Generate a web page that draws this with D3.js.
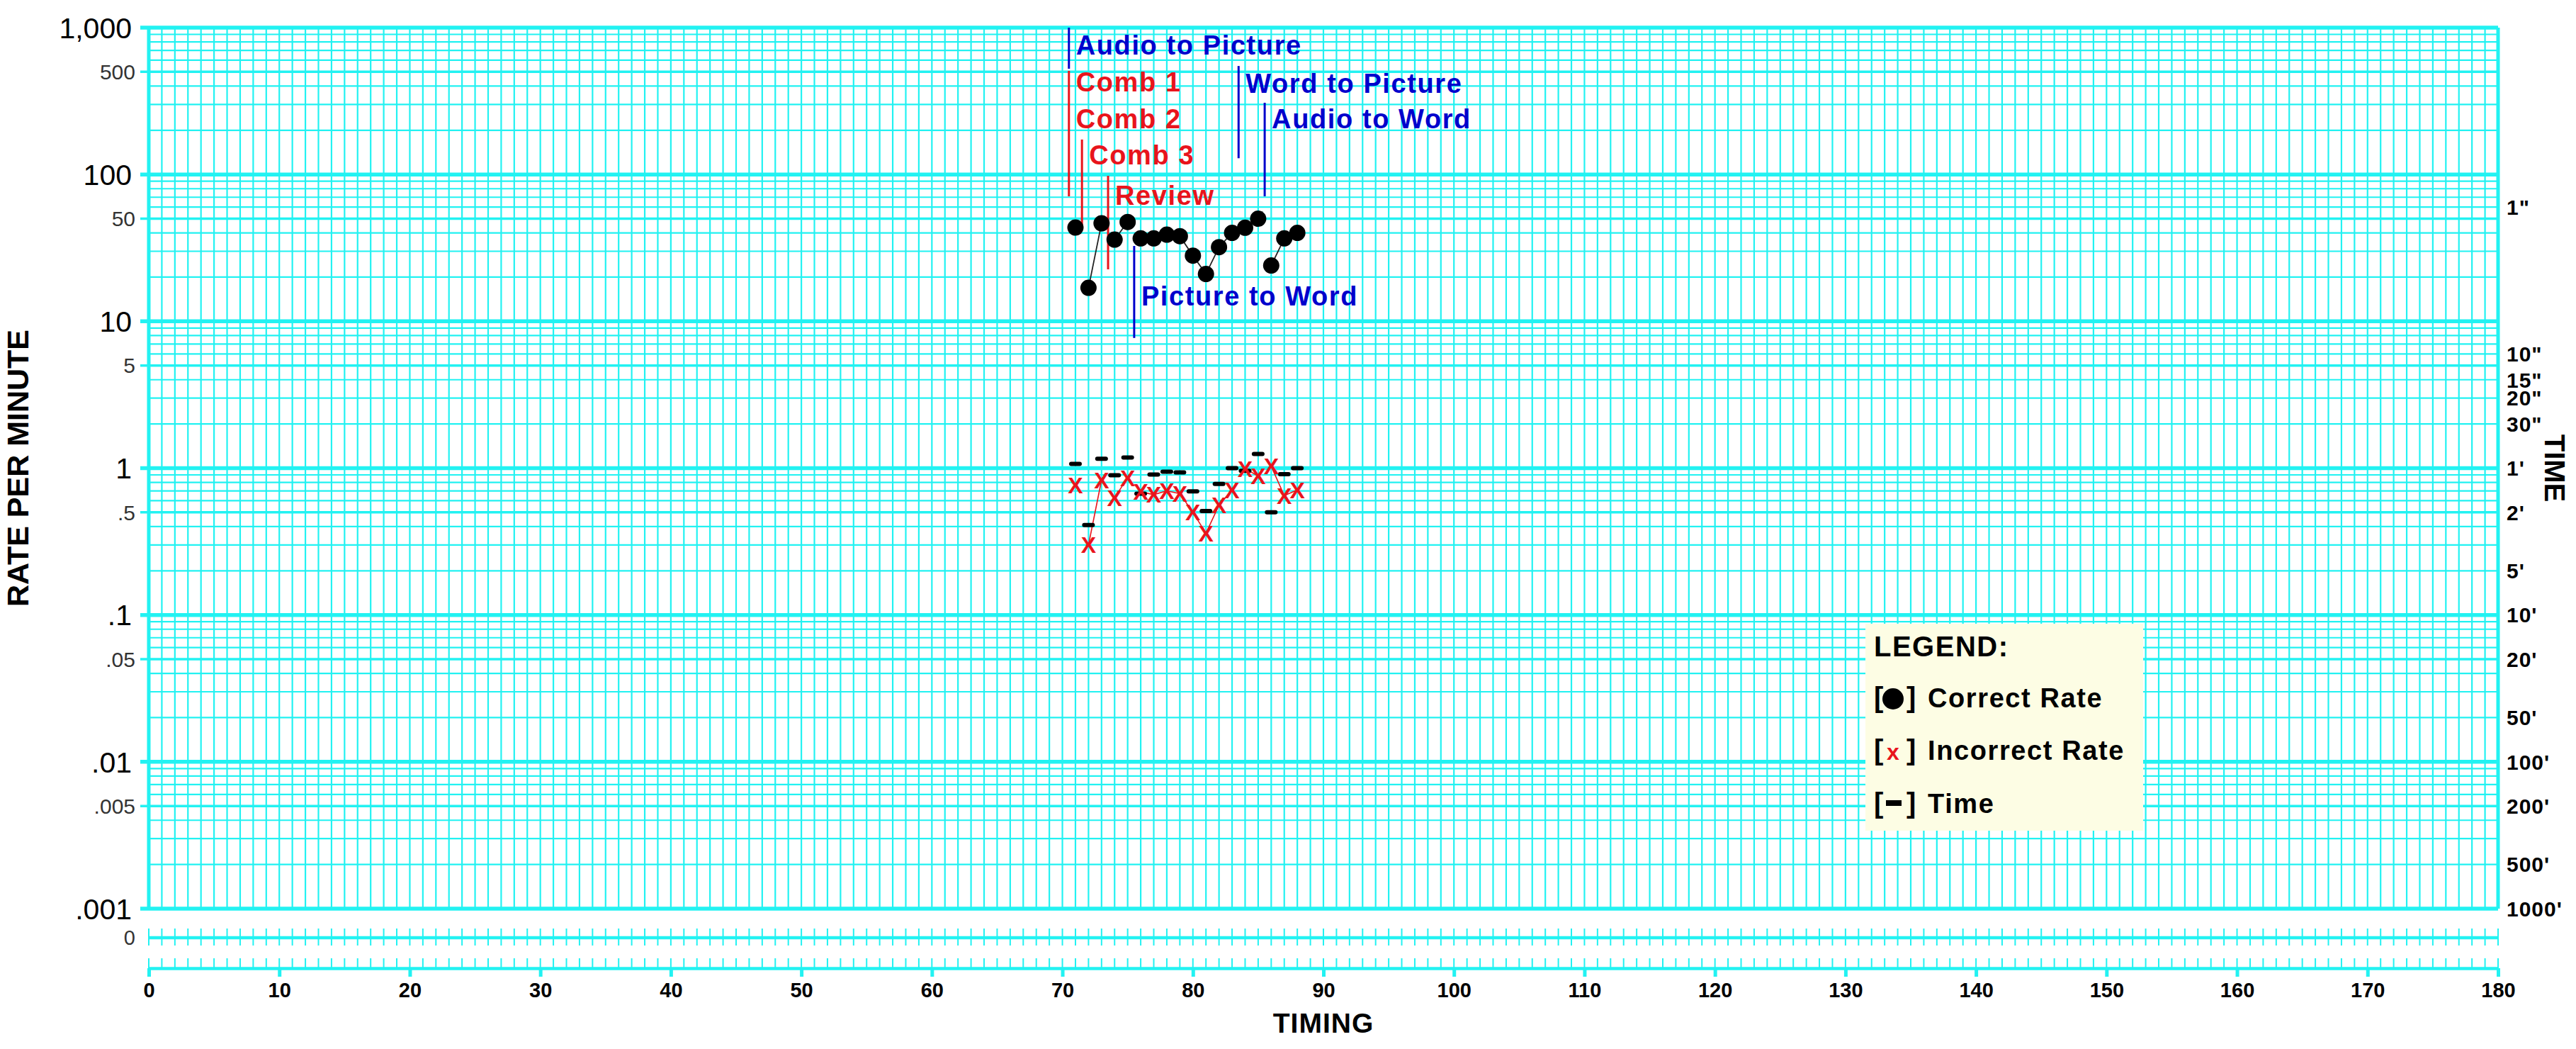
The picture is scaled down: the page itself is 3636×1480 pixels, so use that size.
<!DOCTYPE html>
<html>
<head>
<meta charset="utf-8">
<script src="https://cdn.jsdelivr.net/npm/d3@7"></script>
<style>
  html, body { margin: 0; padding: 0; background: #fff; }
  svg text { font-family: "Liberation Sans", Arial, sans-serif; }
</style>
</head>
<body>
<div id="chart"></div>
<script>

// Data

const sessions = [71, 72, 73, 74, 75, 76, 77, 78, 79, 80, 81, 82, 83, 84, 85, 86, 87, 88]
const correctRate = [43.5, 16.9, 46.5, 36, 47.5, 36.7, 36.7, 38.9, 38, 28, 21, 32, 40, 43.4, 50, 24, 36.7, 40]
const incorrectRate = [0.77, 0.30, 0.83, 0.63, 0.86, 0.69, 0.66, 0.70, 0.67, 0.50, 0.36, 0.56, 0.71, 0.99, 0.885, 1.03, 0.65, 0.71]
const timeRate = [1.07, 0.41, 1.16, 0.895, 1.18, 0.67, 0.905, 0.946, 0.935, 0.695, 0.51, 0.78, 1.0, 0.96, 1.25, 0.50, 0.91, 1.0]

// phase change lines (session boundary, line extent in rate units, label rate)
const phaseLabels = ['Audio to Picture', 'Comb 1', 'Comb 2', 'Comb 3', 'Review', 'Picture to Word', 'Word to Picture', 'Audio to Word']
const phaseAt = [70.5, 70.5, 70.5, 71.5, 73.5, 75.5, 83.5, 85.5]
const phaseTop = [1000, 508, null, 173, 98, 32.6, 548, 308]
const phaseBottom = [525, 71, null, 44, 22.6, 7.7, 129, 71]
const phaseLabelRate = [766, 430, 241, 137, 72.6, 15, 420, 241]
const phaseKind = ['blue', 'red', 'red', 'red', 'red', 'blue', 'blue', 'blue']

const rateMajor = [1000, 100, 10, 1, 0.1, 0.01, 0.001]
const rateMajorLabels = ['1,000', '100', '10', '1', '.1', '.01', '.001']
const rateMinor = [500, 50, 5, 0.5, 0.05, 0.005]
const rateMinorLabels = ['500', '50', '5', '.5', '.05', '.005']

const timeTickRates = [60, 6, 4, 3, 2, 1, 0.5, 0.2, 0.1, 0.05, 0.02, 0.01, 0.005, 0.002, 0.001]
const timeTickLabels = ['1"', '10"', '15"', '20"', '30"', "1'", "2'", "5'", "10'", "20'", "50'", "100'", "200'", "500'", "1000'"]

const timingTicks = [0, 10, 20, 30, 40, 50, 60, 70, 80, 90, 100, 110, 120, 130, 140, 150, 160, 170, 180]

const legendLabels = ['Correct Rate', 'Incorrect Rate', 'Time']

// Layout

const W = 3636, H = 1480
const plot = { left: 210, right: 3526, top: 39, bottom: 1282 }
const zeroY = 1323, axisY = 1366
const cyan = '#22f2f2'
const blue = '#0000cc', red = '#e8141c'
const font = '"Liberation Sans", Arial, sans-serif'

const svg = d3.select('#chart').append('svg')
  .attr('width', W)
  .attr('height', H)
  .style('display', 'block')
  .style('background', '#fff')

const x = d3.scaleLinear().domain([0, 180]).range([plot.left, plot.right])
const y = d3.scaleLog().domain([0.001, 1000]).range([plot.bottom, plot.top])

// Grid

const grid = svg.append('g').attr('class', 'grid')

function mantissa(v) {
  return Math.round(v / Math.pow(10, Math.floor(Math.log10(v) + 1e-9)))
}

grid.selectAll('.vline')
  .data(x.ticks(180))
  .join('line')
    .attr('x1', d => x(d)).attr('x2', d => x(d))
    .attr('y1', plot.top).attr('y2', plot.bottom)
    .attr('stroke', cyan)
    .attr('stroke-width', d => (d === 0 || d === 180) ? 5 : 2.2)

grid.selectAll('.hline')
  .data(y.ticks())
  .join('line')
    .attr('x1', d => (mantissa(d) === 1 || mantissa(d) === 5) ? plot.left - 12 : plot.left)
    .attr('x2', plot.right)
    .attr('y1', d => y(d)).attr('y2', d => y(d))
    .attr('stroke', cyan)
    .attr('stroke-width', d => mantissa(d) === 1 ? 5.5 : mantissa(d) === 5 ? 3.5 : 2.2)

// zero line band and timing axis
grid.selectAll('.ztick')
  .data(x.ticks(180))
  .join('line')
    .attr('x1', d => x(d)).attr('x2', d => x(d))
    .attr('y1', zeroY - 13).attr('y2', zeroY + 11)
    .attr('stroke', cyan).attr('stroke-width', 2)

grid.append('line')
  .attr('x1', x(0)).attr('x2', x(180))
  .attr('y1', zeroY).attr('y2', zeroY)
  .attr('stroke', cyan).attr('stroke-width', 4.5)

grid.selectAll('.atick')
  .data(x.ticks(180))
  .join('line')
    .attr('x1', d => x(d)).attr('x2', d => x(d))
    .attr('y1', axisY - 14).attr('y2', axisY)
    .attr('stroke', cyan).attr('stroke-width', 2)

const xAxis = svg.append('g')
  .attr('transform', 'translate(0,' + axisY + ')')
  .call(d3.axisBottom(x).tickValues(timingTicks).tickSize(12).tickPadding(8).tickSizeOuter(0))
xAxis.select('.domain').attr('stroke', cyan).attr('stroke-width', 4.5)
xAxis.selectAll('.tick line').attr('stroke', cyan).attr('stroke-width', 5)
xAxis.selectAll('.tick text')
  .attr('fill', '#000')
  .style('font-family', font)
  .style('font-size', '29px')
  .style('font-weight', 'bold')

// Left rate labels
svg.selectAll('.rate-major')
  .data(rateMajor)
  .join('text')
    .attr('x', plot.left - 24)
    .attr('y', d => y(d))
    .attr('dy', '0.36em')
    .attr('text-anchor', 'end')
    .style('font-size', '41px')
    .attr('fill', '#000')
    .text((d, i) => rateMajorLabels[i])

svg.selectAll('.rate-minor')
  .data(rateMinor)
  .join('text')
    .attr('x', plot.left - 19)
    .attr('y', d => y(d))
    .attr('dy', '0.36em')
    .attr('text-anchor', 'end')
    .style('font-size', '30px')
    .attr('fill', '#333')
    .text((d, i) => rateMinorLabels[i])

svg.append('text')
  .attr('x', plot.left - 19)
  .attr('y', zeroY)
  .attr('dy', '0.36em')
  .attr('text-anchor', 'end')
  .style('font-size', '29px')
  .attr('fill', '#333')
  .text('0')

// Right time labels
svg.selectAll('.time-label')
  .data(timeTickRates)
  .join('text')
    .attr('x', plot.right + 12)
    .attr('y', d => y(d))
    .attr('dy', '0.36em')
    .style('font-size', '30px')
    .style('font-weight', 'bold')
    .style('letter-spacing', '1px')
    .attr('fill', '#000')
    .text((d, i) => timeTickLabels[i])

// Axis titles
svg.append('text')
  .attr('transform', 'translate(40,' + (plot.top + plot.bottom) / 2 + ') rotate(-90)')
  .attr('text-anchor', 'middle')
  .style('font-size', '43px')
  .style('font-weight', 'bold')
  .text('RATE PER MINUTE')

svg.append('text')
  .attr('transform', 'translate(3592,' + (plot.top + plot.bottom) / 2 + ') rotate(90)')
  .attr('text-anchor', 'middle')
  .style('font-size', '40px')
  .style('font-weight', 'bold')
  .text('TIME')

svg.append('text')
  .attr('x', (plot.left + plot.right) / 2)
  .attr('y', 1457)
  .attr('text-anchor', 'middle')
  .style('font-size', '39px')
  .style('font-weight', 'bold')
  .style('letter-spacing', '1px')
  .text('TIMING')

// Phase change lines and labels
const phaseColor = k => k === 'blue' ? blue : red

const phases = svg.append('g').attr('class', 'phases')
phases.selectAll('line')
  .data(phaseLabels.map((name, i) => ({ i, name })).filter(d => phaseTop[d.i] !== null))
  .join('line')
    .attr('x1', d => x(phaseAt[d.i])).attr('x2', d => x(phaseAt[d.i]))
    .attr('y1', d => y(phaseTop[d.i])).attr('y2', d => y(phaseBottom[d.i]))
    .attr('stroke', d => phaseColor(phaseKind[d.i]))
    .attr('stroke-width', 3)

phases.selectAll('text')
  .data(phaseLabels)
  .join('text')
    .attr('x', (d, i) => x(phaseAt[i]) + 10)
    .attr('y', (d, i) => y(phaseLabelRate[i]))
    .attr('dy', '0.36em')
    .style('font-size', '38px')
    .style('font-weight', 'bold')
    .style('letter-spacing', '1.6px')
    .attr('fill', (d, i) => phaseColor(phaseKind[i]))
    .text(d => d)

// Data series, connected within each phase
const bounds = Array.from(new Set(phaseAt)).sort((a, b) => a - b)
const phaseOf = s => bounds.filter(b => b < s).length
const rows = sessions.map((s, i) => ({
  session: s, phase: phaseOf(s),
  correct: correctRate[i], incorrect: incorrectRate[i], time: timeRate[i]
}))
const byPhase = Array.from(d3.group(rows, d => d.phase).values())

const correctLine = d3.line().x(d => x(d.session)).y(d => y(d.correct))
const incorrectLine = d3.line().x(d => x(d.session)).y(d => y(d.incorrect))

const series = svg.append('g').attr('class', 'series')

series.selectAll('.inc-line')
  .data(byPhase)
  .join('path')
    .attr('d', incorrectLine)
    .attr('fill', 'none')
    .attr('stroke', red)
    .attr('stroke-width', 1.6)

series.selectAll('.time-mark')
  .data(rows)
  .join('rect')
    .attr('x', d => x(d.session) - 9)
    .attr('y', d => y(d.time) - 3)
    .attr('width', 18)
    .attr('height', 6)
    .attr('rx', 3)
    .attr('fill', '#000')

series.selectAll('.inc-mark')
  .data(rows)
  .join('text')
    .attr('x', d => x(d.session))
    .attr('y', d => y(d.incorrect))
    .attr('dy', '0.36em')
    .attr('text-anchor', 'middle')
    .style('font-size', '32px')
    .style('font-weight', 'bold')
    .attr('fill', red)
    .text('X')

series.selectAll('.cor-line')
  .data(byPhase)
  .join('path')
    .attr('d', correctLine)
    .attr('fill', 'none')
    .attr('stroke', '#222')
    .attr('stroke-width', 1.8)

series.selectAll('.cor-mark')
  .data(rows)
  .join('circle')
    .attr('cx', d => x(d.session))
    .attr('cy', d => y(d.correct))
    .attr('r', 11.5)
    .attr('fill', '#000')

// Legend
const legend = svg.append('g').attr('transform', 'translate(2633,880)')
legend.append('rect')
  .attr('width', 392).attr('height', 292)
  .attr('fill', '#fdfde4')

legend.append('text')
  .attr('x', 12).attr('y', 46)
  .style('font-size', '40px').style('font-weight', 'bold').style('letter-spacing', '1.5px')
  .text('LEGEND:')

const rowY = [118, 192, 267]
const item = legend.selectAll('.item')
  .data(legendLabels)
  .join('g')
    .attr('transform', (d, i) => 'translate(0,' + rowY[i] + ')')

item.append('text').attr('x', 12).style('font-size', '40px').style('font-weight', 'bold').text('[')
item.append('text').attr('x', 58).style('font-size', '40px').style('font-weight', 'bold').text(']')
item.append('text')
  .attr('x', 88)
  .style('font-size', '38px').style('font-weight', 'bold').style('letter-spacing', '1.6px')
  .text(d => d)

item.filter((d, i) => i === 0).append('circle')
  .attr('cx', 39).attr('cy', -12).attr('r', 15).attr('fill', '#000')
item.filter((d, i) => i === 1).append('text')
  .attr('x', 39).attr('y', -12).attr('dy', '0.36em').attr('text-anchor', 'middle')
  .style('font-size', '32px').style('font-weight', 'bold').attr('fill', red).text('x')
item.filter((d, i) => i === 2).append('rect')
  .attr('x', 29).attr('y', -18).attr('width', 22).attr('height', 8).attr('fill', '#000')

</script>
</body>
</html>
